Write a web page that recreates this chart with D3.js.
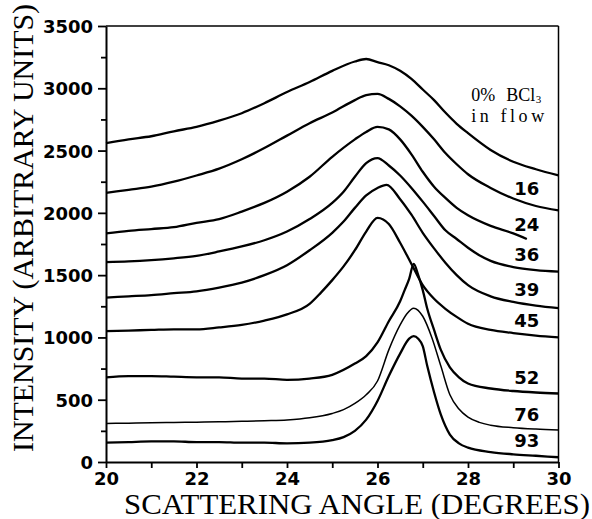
<!DOCTYPE html>
<html>
<head>
<meta charset="utf-8">
<script src="https://cdn.jsdelivr.net/npm/d3@7"></script>
<style>
    body { margin: 0; background: #ffffff; }
    svg { display: block; }
</style>
</head>
<body>
<svg id="chart"></svg>
<script>

// DATA (scattering angle in degrees, intensity in arbitrary units)

const bcl3Labels = ["0", "16", "24", "36", "39", "45", "52", "76", "93"];

const xTickValues = [20, 21, 22, 23, 24, 25, 26, 27, 28, 29, 30];
const xTickLabels = ["20", "", "22", "", "24", "", "26", "", "28", "", "30"];
const yTickValues = [0, 250, 500, 750, 1000, 1250, 1500, 1750, 2000, 2250, 2500, 2750, 3000, 3250, 3500];

const flow0 = [[20,2560],[20.5,2590],[21,2615],[21.5,2655],[22,2690],[22.5,2740],[23,2800],[23.5,2880],[24,2970],[24.5,3050],[25,3140],[25.5,3215],[25.75,3235],[26,3210],[26.25,3185],[26.5,3140],[26.75,3075],[27,2990],[27.25,2905],[27.5,2805],[27.75,2715],[28,2640],[28.5,2505],[29,2410],[29.5,2350],[30,2300]];

const flow16 = [[20,2160],[20.5,2185],[21,2210],[21.5,2250],[22,2300],[22.5,2355],[23,2430],[23.5,2520],[24,2620],[24.5,2720],[25,2805],[25.5,2905],[25.75,2945],[26,2955],[26.25,2915],[26.5,2855],[26.75,2780],[27,2690],[27.25,2590],[27.5,2480],[27.75,2390],[28,2310],[28.5,2200],[29,2115],[29.5,2055],[30,2020]];

const flow24 = [[20,1835],[20.5,1855],[21,1870],[21.5,1885],[22,1920],[22.5,1950],[23,2010],[23.5,2080],[24,2170],[24.5,2290],[25,2450],[25.5,2590],[25.75,2650],[26,2690],[26.25,2670],[26.5,2590],[26.75,2470],[27,2330],[27.25,2210],[27.5,2120],[27.75,2040],[28,1980],[28.5,1895],[29,1835],[29.3,1790]];

const flow36 = [[20,1605],[20.5,1610],[21,1620],[21.5,1635],[22,1655],[22.5,1690],[23,1730],[23.5,1780],[24,1850],[24.5,1950],[25,2080],[25.25,2170],[25.5,2290],[25.75,2400],[26,2440],[26.25,2380],[26.5,2300],[26.75,2200],[27,2090],[27.25,1975],[27.5,1860],[27.75,1790],[28,1720],[28.25,1660],[28.5,1615],[29,1565],[29.5,1540],[30,1528]];

const flow39 = [[20,1320],[20.5,1330],[21,1340],[21.5,1355],[22,1370],[22.5,1400],[23,1440],[23.5,1500],[24,1580],[24.5,1700],[25,1840],[25.25,1930],[25.5,2040],[25.75,2140],[26,2200],[26.2,2225],[26.5,2110],[26.75,1985],[27,1840],[27.25,1715],[27.5,1600],[27.75,1500],[28,1420],[28.5,1330],[29,1285],[29.5,1255],[30,1235]];

const flow45 = [[20,1050],[20.5,1055],[21,1060],[21.5,1065],[22,1065],[22.5,1080],[23,1100],[23.5,1135],[24,1185],[24.5,1270],[24.75,1360],[25,1460],[25.25,1570],[25.5,1700],[25.75,1850],[26,1960],[26.25,1910],[26.5,1760],[26.75,1590],[27,1420],[27.25,1310],[27.5,1230],[27.75,1165],[28,1110],[28.5,1060],[29,1035],[29.5,1015],[30,1000]];

const flow52 = [[20,680],[20.5,690],[21,690],[21.5,685],[22,680],[22.5,680],[23,670],[23.5,670],[24,660],[24.5,670],[25,700],[25.5,790],[25.75,850],[26,960],[26.25,1130],[26.5,1290],[26.6,1380],[26.7,1470],[26.8,1590],[26.9,1500],[27,1380],[27.1,1230],[27.25,1060],[27.4,900],[27.6,760],[27.8,680],[28,630],[28.5,590],[29,570],[29.5,558],[30,550]];

const flow76 = [[20,310],[20.5,312],[21,315],[21.5,318],[22,320],[22.5,323],[23,327],[23.5,332],[24,338],[24.5,355],[25,390],[25.25,420],[25.5,470],[25.75,540],[26,650],[26.25,900],[26.5,1100],[26.65,1190],[26.8,1235],[27,1170],[27.2,1000],[27.4,770],[27.6,540],[27.8,425],[28,360],[28.25,318],[28.5,295],[29,275],[29.5,264],[30,257]];

const flow93 = [[20,155],[20.5,160],[21,165],[21.5,165],[22,160],[22.5,160],[23,155],[23.5,155],[24,150],[24.5,155],[25,175],[25.25,200],[25.5,250],[25.75,340],[26,490],[26.25,690],[26.5,870],[26.7,990],[26.8,1010],[26.9,990],[27,930],[27.1,770],[27.25,560],[27.4,380],[27.6,220],[27.8,150],[28,115],[28.5,80],[29,62],[29.5,50],[30,38]];

const allSeries = [flow0, flow16, flow24, flow36, flow39, flow45, flow52, flow76, flow93];


// SETUP

const width = 592;
const height = 519;

const svg = d3.select("#chart")
    .attr("width", width)
    .attr("height", height);

const x = d3.scaleLinear().domain([20, 30]).range([106, 558.5]);
const y = d3.scaleLinear().domain([0, 3500]).range([462, 26]);

const tickFont = "'DejaVu Sans', sans-serif";
const titleFont = "'Liberation Serif', 'Times New Roman', serif";


// CURVES

const line = d3.line()
    .x(d => x(d[0]))
    .y(d => y(d[1]))
    .curve(d3.curveMonotoneX);

for (let i = 0; i < allSeries.length; i++) {

    let smooth = bcl3Labels[i] === "76";

    svg.append("path")
        .datum(allSeries[i])
        .attr("d", line)
        .attr("fill", "none")
        .attr("stroke", "#000")
        .attr("stroke-width", smooth ? 1.5 : 2.3)
        .attr("stroke-linejoin", "round");

}


// AXES

const xAxis = d3.axisBottom(x)
    .tickValues(xTickValues)
    .tickFormat((d, i) => xTickLabels[i])
    .tickSize(6)
    .tickSizeOuter(0)
    .tickPadding(4);

const yAxis = d3.axisLeft(y)
    .tickValues(yTickValues)
    .tickFormat(d => d % 500 === 0 ? d : "")
    .tickSize(8)
    .tickSizeOuter(0)
    .tickPadding(5);

const gx = svg.append("g")
    .attr("transform", "translate(0," + y(0) + ")")
    .call(xAxis);

const gy = svg.append("g")
    .attr("transform", "translate(" + x(20) + ",0)")
    .call(yAxis);

gy.selectAll(".tick")
    .filter(d => d % 500 !== 0)
    .select("line")
    .attr("x2", -5);

for (let g of [gx, gy]) {
    g.select(".domain").attr("stroke-width", 2);
    g.selectAll(".tick line").attr("stroke-width", 1.8);
    g.selectAll("text")
        .attr("font-family", tickFont)
        .attr("font-weight", "bold")
        .attr("font-size", 18)
        .attr("fill", "#000");
}

gy.selectAll("text").attr("dy", "0.36em");


// FRAME (top and right)

svg.append("line")
    .attr("x1", x(20)).attr("x2", x(30))
    .attr("y1", y(3500)).attr("y2", y(3500))
    .attr("stroke", "#000").attr("stroke-width", 1.5);

svg.append("line")
    .attr("x1", x(30)).attr("x2", x(30))
    .attr("y1", y(3500)).attr("y2", y(0))
    .attr("stroke", "#000").attr("stroke-width", 1.5);


// AXIS TITLES

svg.append("text")
    .attr("x", 124)
    .attr("y", 514)
    .attr("font-family", titleFont)
    .attr("font-size", 29)
    .attr("textLength", 466)
    .attr("lengthAdjust", "spacingAndGlyphs")
    .text("SCATTERING ANGLE (DEGREES)");

svg.append("text")
    .attr("transform", "translate(33,228) rotate(-90)")
    .attr("text-anchor", "middle")
    .attr("font-family", titleFont)
    .attr("font-size", 29)
    .attr("textLength", 448)
    .attr("lengthAdjust", "spacingAndGlyphs")
    .text("INTENSITY (ARBITRARY UNITS)");


// CURVE LABELS

const labelAngle = 29.3;

function valueAt(series, angle) {
    let xs = series.map(d => d[0]);
    let ys = series.map(d => d[1]);
    return d3.scaleLinear().domain(xs).range(ys).clamp(true)(angle);
}

for (let i = 1; i < allSeries.length; i++) {

    svg.append("text")
        .attr("x", x(labelAngle))
        .attr("y", y(valueAt(allSeries[i], labelAngle)) - 8)
        .attr("text-anchor", "middle")
        .attr("font-family", tickFont)
        .attr("font-weight", "bold")
        .attr("font-size", 18)
        .text(bcl3Labels[i]);

}

// first curve carries the long label, on two rows

const firstLabelAngle = 28.07;
const firstX = x(firstLabelAngle);
const firstBase = y(valueAt(flow0, firstLabelAngle)) - 13;
const rowGap = 21;

const percentText = svg.append("text")
    .attr("x", firstX)
    .attr("y", firstBase - rowGap)
    .attr("font-family", titleFont)
    .attr("font-size", 18)
    .text(bcl3Labels[0] + "%");

const bclX = firstX + percentText.node().getComputedTextLength() + 11;

const bclText = svg.append("text")
    .attr("x", bclX)
    .attr("y", firstBase - rowGap)
    .attr("font-family", titleFont)
    .attr("font-size", 18)
    .text("BCl");

svg.append("text")
    .attr("x", bclX + bclText.node().getComputedTextLength() + 0.5)
    .attr("y", firstBase - rowGap + 2)
    .attr("font-family", titleFont)
    .attr("font-size", 11)
    .text("3");

svg.append("text")
    .attr("x", firstX)
    .attr("y", firstBase)
    .attr("font-family", titleFont)
    .attr("font-size", 18)
    .attr("textLength", 73)
    .attr("lengthAdjust", "spacing")
    .text("in  flow");

</script>
</body>
</html>
